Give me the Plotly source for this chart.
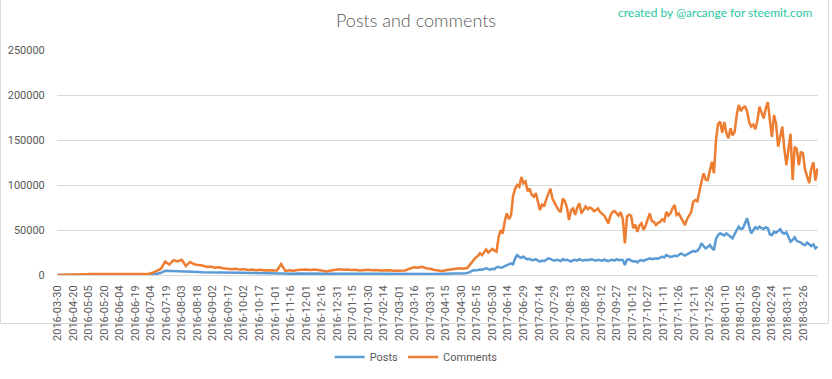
import pandas as pd
import plotly.graph_objects as go

# ---------------- data ----------------
tick_labels = [
    "2016-03-30", "2016-04-20", "2016-05-05", "2016-05-20", "2016-06-04", "2016-06-19",
    "2016-07-04", "2016-07-19", "2016-08-03", "2016-08-18", "2016-09-02", "2016-09-17",
    "2016-10-02", "2016-10-17", "2016-11-01", "2016-11-16", "2016-12-01", "2016-12-16",
    "2016-12-31", "2017-01-15", "2017-01-30", "2017-02-14", "2017-03-01", "2017-03-16",
    "2017-03-31", "2017-04-15", "2017-04-30", "2017-05-15", "2017-05-30", "2017-06-14",
    "2017-06-29", "2017-07-14", "2017-07-29", "2017-08-13", "2017-08-28", "2017-09-12",
    "2017-09-27", "2017-10-12", "2017-10-27", "2017-11-11", "2017-11-26", "2017-12-11",
    "2017-12-26", "2018-01-10", "2018-01-25", "2018-02-09", "2018-02-24", "2018-03-11",
    "2018-03-26",
]

# every day shown on the category axis (note the gap after the first day)
all_dates = ["2016-03-30"] + [d.strftime("%Y-%m-%d") for d in pd.date_range("2016-04-06", "2018-04-09", freq="D")]

early_dates = ["2016-03-30"] + [d.strftime("%Y-%m-%d") for d in pd.date_range("2016-04-09", "2017-05-02", freq="4D")]
late_dates = [d.strftime("%Y-%m-%d") for d in pd.date_range("2017-05-04", "2018-04-09", freq="2D")]
sample_dates = early_dates + late_dates

comments_early = [
    0, 0, 100, 100, 200, 300, 500, 800, 1000, 1000,
    900, 1000, 1100, 1000, 1000, 1100, 1100, 1000, 1100, 1200,
    1200, 1200, 1400, 2500, 4500, 7000, 14800, 11500, 16500, 15000,
    17000, 10000, 14500, 12000, 11000, 10500, 9000, 9500, 8000, 8500,
    7500, 7000, 6500, 7000, 6000, 6500, 5500, 6000, 5200, 5800,
    5000, 5300, 4800, 5000, 12000, 4500, 5200, 4800, 5500, 5800,
    6200, 5500, 6000, 5500, 5000, 4000, 5000, 6000, 6500, 5800,
    6200, 5500, 5800, 5000, 5500, 5800, 5200, 5600, 5000, 5500,
    5300, 4800, 5000, 4500, 5000, 7000, 8500, 8000, 9000, 7500,
    7000, 5500, 4800, 4400, 5500, 6300, 7000, 7400, 7000,
]
comments_late = [
    7400, 8000, 11000, 14000, 17000, 19500, 21000, 24000, 22000, 26000,
    28500, 25000, 27000, 29000, 27000, 26000, 42000, 50000, 46000, 60000,
    68500, 62000, 66000, 88000, 96000, 100000, 98000, 109000, 102000, 104000,
    93000, 96000, 89000, 87000, 91000, 80000, 72000, 79000, 76000, 84000,
    90000, 96000, 85000, 79600, 76000, 72000, 70000, 85000, 82000, 75000,
    61000, 72000, 74000, 66700, 75000, 79600, 68500, 72000, 76000, 73000,
    75000, 74000, 71000, 72000, 74000, 70000, 68500, 66000, 62000, 57400,
    66000, 70000, 71000, 68000, 66000, 70000, 62000, 35000, 64800, 67000,
    66000, 52000, 56000, 48000, 55000, 57400, 50000, 55000, 62000, 68500,
    60000, 59000, 55500, 58000, 59000, 62000, 60000, 70300, 66000, 68500,
    74000, 77800, 66700, 68500, 64000, 60000, 55500, 62000, 66000, 70000,
    81400, 83300, 82000, 95000, 103700, 113000, 106000, 105500, 115000, 125900,
    113000, 150000, 168000, 170300, 158000, 170000, 158000, 152000, 163000, 155000,
    159000, 178000, 189000, 182000, 186000, 187000, 182000, 170000, 164800, 167000,
    162000, 172000, 187000, 180000, 174000, 185000, 192000, 172000, 153600, 177800,
    168000, 142500, 155000, 164800, 140000, 122000, 140000, 157000, 105500, 142500,
    140000, 122000, 137000, 135000, 117000, 110000, 102000, 118000, 125000, 105000,
    118500,
]
posts_early = [
    0, 0, 50, 100, 100, 150, 200, 200, 250, 250,
    300, 300, 300, 300, 350, 350, 350, 350, 400, 400,
    400, 400, 450, 800, 1500, 2500, 4800, 4500, 5000, 4200,
    3800, 3500, 3500, 3300, 3200, 3000, 2900, 2800, 2700, 2600,
    2500, 2400, 2300, 2200, 2100, 2000, 2000, 1900, 1900, 1800,
    1800, 1700, 1700, 1600, 1700, 1600, 1600, 1500, 1600, 1500,
    1500, 1500, 1400, 1500, 1400, 1300, 1400, 1500, 1400, 1500,
    1400, 1400, 1500, 1400, 1400, 1500, 1400, 1400, 1500, 1400,
    1300, 1300, 1200, 1200, 1200, 1200, 1300, 1300, 1200, 1200,
    1100, 1100, 1100, 1200, 1200, 1300, 1400, 1500, 1600,
]
posts_late = [
    1900, 2200, 3500, 4500, 5500, 5000, 5800, 6000, 5800, 6500,
    7400, 6500, 6000, 6800, 6500, 8500, 9200, 8000, 8500, 10000,
    11000, 12500, 13000, 12000, 18500, 22200, 20000, 19000, 20400, 18500,
    17400, 18000, 16500, 16700, 17500, 16000, 14800, 16000, 15500, 17000,
    18500, 18000, 16500, 16000, 17000, 16500, 15500, 17500, 16500, 17000,
    16000, 15000, 16500, 17000, 16000, 17500, 16500, 16000, 17000, 16500,
    17000, 17500, 16500, 16000, 17000, 16500, 16000, 17000, 16500, 15500,
    16500, 17000, 16000, 17500, 16500, 17000, 16500, 11000, 17000, 17500,
    16000, 15000, 15500, 14000, 16000, 16500, 15500, 17000, 17500, 18500,
    17500, 18000, 18500, 18000, 19000, 20400, 19500, 22200, 21000, 20000,
    20500, 21500, 21000, 22000, 24000, 23000, 21500, 23000, 24000, 25000,
    26700, 26000, 27000, 30000, 35200, 32000, 29600, 31000, 33300, 30000,
    27800, 40000, 44400, 46300, 45000, 44000, 46300, 44000, 42600, 40700,
    46000, 50000, 53700, 51000, 52000, 57000, 63000, 54000, 46300, 50000,
    53000, 51500, 53700, 52000, 51000, 53000, 52000, 45000, 44400, 48000,
    47000, 49000, 51000, 47000, 46000, 47500, 43000, 37000, 39000, 42000,
    38000, 37000, 36000, 34000, 33300, 36000, 34000, 32000, 34000, 29600,
    31500,
]

posts = posts_early + posts_late
comments = comments_early + comments_late

# ---------------- figure ----------------
W, H = 832, 379
ML, MR, MT, MB = 57, 14, 50, 104
TXT = "#595959"
FONT = "Roboto"

fig = go.Figure()
fig.add_trace(go.Scatter(x=sample_dates, y=posts, name="Posts", mode="lines",
                         line=dict(color="#5B9BD5", width=2.5)))
fig.add_trace(go.Scatter(x=sample_dates, y=comments, name="Comments", mode="lines",
                         line=dict(color="#ED7D31", width=2.5)))

pw = W - ML - MR
ph = H - MT - MB
fig.add_shape(type="rect", xref="paper", yref="paper",
              x0=(0.5 - ML) / pw, x1=(W - 3.5 - ML) / pw,
              y0=(H - MT - (H - 1.5)) / ph, y1=(H - MT - 0.5) / ph,
              line=dict(color="#D9D9D9", width=1), layer="below")

fig.update_layout(
    width=W, height=H,
    margin=dict(l=ML, r=MR, t=MT, b=MB, pad=0, autoexpand=False),
    paper_bgcolor="white", plot_bgcolor="white",
    font=dict(family=FONT, size=11, color=TXT),
    title=dict(text="Posts and comments", x=0.5, xref="container", xanchor="center",
               y=1 - 21 / H, yref="container", yanchor="middle",
               font=dict(family="Lato", size=18, color=TXT, weight=300)),
    showlegend=True,
    legend=dict(orientation="h", x=0.472, xanchor="center", y=-(357 - (H - MB)) / ph,
                yanchor="middle", font=dict(size=11, color=TXT), bgcolor="rgba(0,0,0,0)"),
    annotations=[dict(text="created by @arcange for steemit.com", xref="paper", yref="paper",
                      x=(815 - ML) / pw, y=(H - MB - 12) / ph, xanchor="right", yanchor="middle",
                      showarrow=False, font=dict(family="Lato", size=12, color="#1FC7A2"))],
)

fig.update_xaxes(
    type="category", categoryorder="array", categoryarray=all_dates,
    range=[-0.5, len(all_dates) - 0.5], automargin=False,
    tickmode="array", tickvals=tick_labels, ticktext=tick_labels,
    tickangle=-90, showgrid=False, zeroline=False,
    showline=True, linecolor="#D9D9D9", linewidth=1,
    ticks="outside", ticklen=5, tickcolor="rgba(0,0,0,0)",
    tickfont=dict(family=FONT, size=11, color=TXT),
)
fig.update_yaxes(
    range=[0, 250000], tickmode="linear", tick0=0, dtick=50000, tickformat="d",
    automargin=False,
    showgrid=True, gridcolor="#D9D9D9", gridwidth=1,
    zeroline=True, zerolinecolor="#D9D9D9", zerolinewidth=1,
    showline=False, ticks="outside", ticklen=9, tickcolor="rgba(0,0,0,0)",
    tickfont=dict(family=FONT, size=11, color=TXT),
)

fig.write_html("out.html", config={"displayModeBar": False},
               post_script="document.body.style.margin='0';document.body.style.overflow='hidden';")
